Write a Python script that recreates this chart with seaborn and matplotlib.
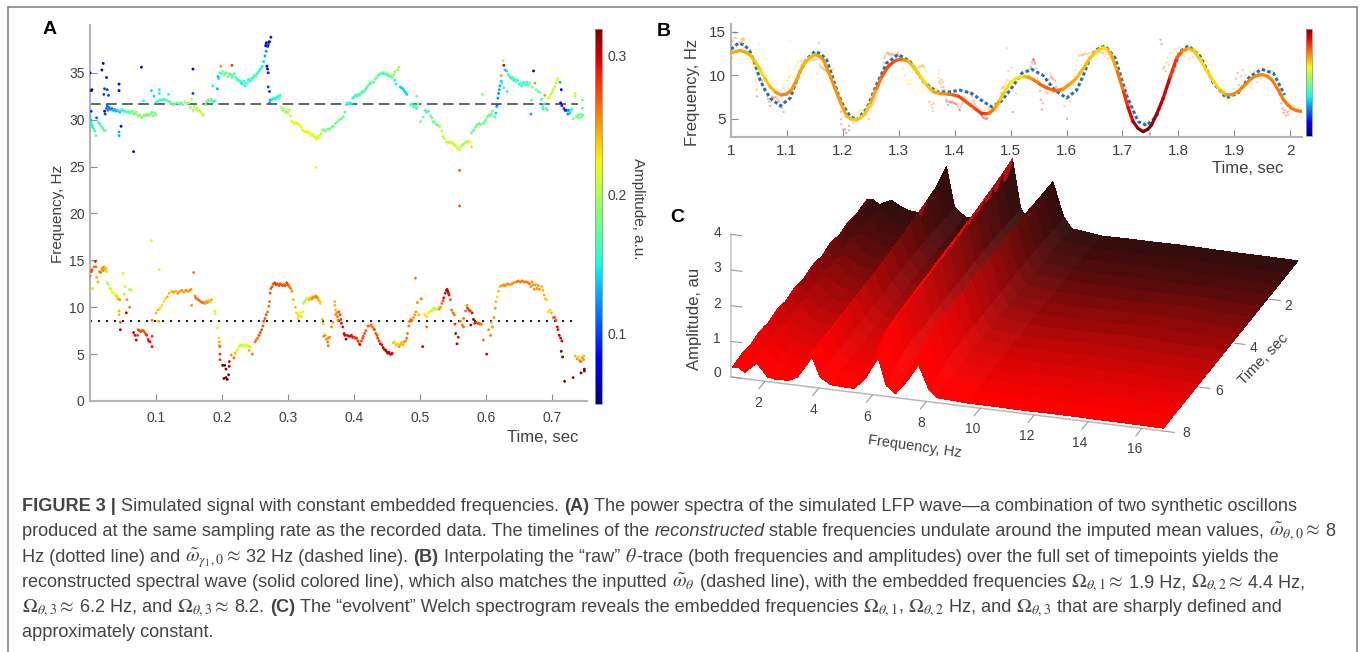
import numpy as np
import pandas as pd
import matplotlib
matplotlib.use("Agg")
import matplotlib.pyplot as plt
import seaborn as sns
from matplotlib.collections import LineCollection
from matplotlib.colors import Normalize, LinearSegmentedColormap
from matplotlib.cm import ScalarMappable
from mpl_toolkits.mplot3d import proj3d

# ---------- Panel A: gamma band ----------
gamma_t = [
.000,.002,.003,.018,.020,.025,.022,.021,.026,.028,
.002,.022,.023,.010,.044,.044,.047,.044,.044,.066,
.078,.156,.156,.000,.001,.002,.003,.004,.006,.007,
.009,.013,.015,.017,.019,.021,.023,.025,.026,.027,
.029,.031,.033,.035,.037,.039,.041,.043,.045,.047,
.049,.051,.053,.056,.058,.060,.062,.064,.066,.068,
.070,.072,.074,.076,.078,.080,.082,.084,.086,.088,
.090,.092,.094,.096,.098,.100,.081,.093,.097,.105,
.105,.119,.100,.103,.106,.109,.112,.115,.118,.121,
.123,.126,.129,.132,.135,.138,.141,.144,.147,.150,
.152,.154,.156,.158,.160,.162,.164,.166,.168,.170,
.172,.175,.177,.179,.181,.183,.185,.187,.189,.186,
.193,.194,.195,.197,.198,.199,.201,.203,.205,.207,
.209,.211,.213,.215,.215,.217,.219,.221,.223,.225,
.227,.229,.231,.233,.235,.237,.239,.241,.243,.245,
.247,.249,.251,.253,.255,.257,.259,.261,.263,.265,
.267,.269,.270,.272,.274,.266,.267,.271,.268,.269,
.270,.270,.272,.273,.272,.275,.277,.279,.281,.283,
.285,.287,.288,.290,.292,.294,.296,.298,.300,.302,
.304,.306,.308,.310,.312,.314,.316,.318,.320,.322,
.324,.326,.328,.330,.332,.334,.336,.338,.340,.342,
.343,.344,.346,.348,.350,.352,.342,.354,.357,.360,
.363,.366,.369,.372,.375,.378,.381,.384,.386,.388,
.390,.392,.394,.396,.398,.400,.402,.404,.406,.408,
.410,.412,.414,.416,.418,.420,.422,.424,.426,.428,
.430,.432,.434,.436,.438,.440,.442,.444,.446,.448,
.450,.452,.454,.456,.458,.460,.462,.464,.466,.468,
.470,.472,.474,.476,.478,.480,.462,.486,.488,.490,
.492,.494,.495,.495,.497,.501,.505,.508,.510,.513,
.516,.518,.520,.522,.525,.527,.530,.533,.535,.537,
.540,.542,.544,.546,.548,.550,.552,.554,.556,.558,
.560,.560,.560,.562,.564,.566,.568,.570,.572,.574,
.576,.578,.578,.580,.582,.584,.586,.588,.590,.592,
.595,.596,.598,.600,.602,.604,.606,.608,.610,.613,
.615,.616,.617,.618,.619,.620,.621,.623,.623,.624,
.626,.627,.627,.629,.631,.632,.634,.636,.638,.640,
.642,.644,.646,.648,.650,.652,.654,.656,.658,.660,
.662,.664,.666,.668,.669,.670,.672,.674,.676,.679,
.682,.684,.686,.687,.688,.689,.691,.693,.694,.696,
.698,.700,.702,.704,.706,.708,.709,.712,.714,.713,
.715,.718,.720,.722,.724,.725,.727,.728,.730,.732,
.735,.735,.737,.739,.741,.743,.745,.746,.746,.747]
gamma_f = [
35.0,33.1,33.2,35.3,36.0,34.5,33.3,32.7,33.2,32.6,
30.9,30.9,30.6,30.2,33.8,33.1,29.3,28.7,28.3,26.6,
35.6,35.4,32.8,30.3,30.0,29.7,29.4,29.2,29.0,28.8,
28.3,29.7,29.5,29.3,29.1,28.9,28.8,31.2,31.5,31.0,
31.3,31.1,31.2,31.0,31.1,30.9,31.0,30.9,30.8,31.0,
31.1,30.9,30.9,30.8,30.9,30.7,30.8,30.9,30.6,30.7,
30.8,30.5,30.4,30.5,30.2,30.3,30.5,30.4,30.6,30.4,
30.5,30.6,30.8,30.4,30.7,30.5,32.0,33.1,32.5,33.2,
32.8,32.7,31.9,32.0,32.1,32.1,32.2,32.1,32.0,31.9,
31.7,31.6,31.7,31.8,31.7,31.8,31.6,31.9,31.7,31.8,
31.3,32.2,31.0,31.4,31.1,31.2,30.9,31.0,30.8,30.6,
30.5,31.6,31.9,32.1,32.0,32.2,32.0,31.9,32.0,33.6,
33.3,34.6,34.4,35.0,35.7,34.9,35.1,34.7,34.9,35.0,
34.6,34.9,34.8,35.8,34.5,34.7,34.9,34.5,34.3,34.2,
34.1,33.9,33.8,34.1,33.6,33.9,34.2,34.3,34.1,34.4,
34.5,34.7,34.6,34.9,35.1,35.3,35.5,35.7,36.2,36.8,
37.3,37.8,38.0,38.3,38.8,37.9,38.2,38.3,35.7,35.4,
35.0,33.5,33.0,32.1,31.8,32.1,32.2,32.3,32.2,32.4,
32.5,32.3,32.6,31.3,31.0,31.1,30.8,30.9,30.7,31.0,
30.4,29.8,29.7,29.6,29.7,29.6,29.5,29.4,29.2,28.9,
28.8,28.7,28.8,28.6,28.7,28.5,28.3,28.4,28.2,28.0,
27.9,28.2,28.1,28.3,28.5,28.9,24.9,28.9,28.8,29.0,
29.0,29.2,29.3,29.6,29.8,30.0,30.1,30.3,30.8,31.6,
31.8,31.7,31.8,31.7,32.3,32.4,32.6,32.5,32.7,32.6,
32.8,33.0,32.9,33.1,33.3,33.5,33.7,33.9,33.9,34.0,
34.0,34.3,34.5,34.7,34.8,34.9,34.9,35.0,34.9,34.8,
34.9,34.7,34.6,34.7,34.5,34.8,35.1,33.8,35.3,35.6,
33.5,33.4,33.3,33.1,32.9,32.7,34.2,31.6,31.7,31.4,
31.5,31.2,32.5,31.3,31.7,29.8,30.3,31.0,30.8,30.9,
30.4,30.2,29.8,29.7,29.5,29.4,29.3,28.8,28.2,28.0,
27.6,27.5,27.6,27.5,27.6,27.5,27.3,27.2,27.0,26.9,
26.8,24.6,20.8,27.1,27.3,27.4,27.5,27.6,27.7,27.6,
27.7,27.1,28.6,28.8,28.9,29.2,29.4,29.5,29.6,29.5,
32.7,29.6,29.8,30.0,30.3,30.5,30.4,30.6,30.9,30.3,
30.7,31.4,31.6,32.3,32.8,33.2,33.6,34.1,34.7,33.9,
36.3,35.8,33.4,35.3,35.2,33.0,34.8,34.6,34.4,34.5,
34.2,34.3,34.1,34.2,33.8,33.9,33.6,33.9,34.0,33.7,
34.0,33.7,33.9,30.6,32.1,33.5,35.2,33.9,33.2,33.0,
32.9,32.2,31.4,31.1,31.7,32.6,31.2,31.0,32.3,32.4,
32.7,32.9,33.2,33.5,33.9,34.2,34.4,34.0,33.2,31.8,
31.5,31.2,31.0,31.0,30.6,31.0,30.7,30.9,31.1,30.1,
32.5,32.8,30.3,30.5,30.2,30.6,30.3,32.1,31.2,30.5]
gamma_a = [
.06,.07,.06,.08,.07,.08,.10,.10,.10,.10,
.10,.08,.10,.11,.07,.08,.07,.13,.13,.06,
.06,.07,.10,.14,.14,.15,.15,.15,.16,.17,
.18,.16,.16,.17,.17,.17,.18,.11,.11,.12,
.11,.12,.12,.13,.13,.13,.14,.14,.14,.15,
.16,.16,.16,.17,.17,.17,.18,.18,.18,.18,
.19,.19,.19,.19,.19,.19,.19,.19,.18,.19,
.19,.18,.18,.18,.18,.19,.15,.14,.14,.15,
.15,.16,.17,.17,.16,.16,.16,.16,.17,.17,
.17,.18,.18,.17,.18,.18,.17,.19,.19,.19,
.19,.20,.20,.20,.21,.20,.21,.20,.21,.21,
.20,.18,.17,.18,.18,.18,.17,.16,.15,.15,
.13,.13,.14,.16,.25,.17,.18,.19,.18,.18,
.18,.18,.17,.28,.18,.17,.17,.17,.16,.16,
.16,.15,.15,.15,.15,.16,.16,.16,.16,.16,
.16,.16,.17,.16,.16,.16,.15,.15,.14,.13,
.12,.10,.09,.08,.09,.06,.06,.08,.06,.08,
.09,.10,.10,.13,.12,.14,.15,.15,.15,.15,
.16,.16,.16,.20,.20,.19,.20,.20,.20,.20,
.21,.21,.22,.21,.22,.22,.21,.22,.22,.22,
.22,.22,.22,.22,.22,.22,.22,.22,.21,.22,
.22,.21,.21,.21,.20,.20,.22,.18,.18,.18,
.18,.18,.18,.18,.18,.18,.18,.18,.17,.16,
.16,.16,.15,.15,.16,.16,.17,.16,.17,.17,
.17,.17,.17,.17,.17,.17,.17,.17,.17,.18,
.18,.18,.18,.18,.18,.17,.17,.17,.17,.17,
.17,.17,.18,.18,.18,.19,.19,.15,.20,.20,
.14,.14,.14,.14,.14,.14,.15,.16,.16,.16,
.17,.16,.18,.17,.19,.19,.18,.16,.16,.17,
.18,.18,.18,.18,.18,.19,.20,.20,.20,.21,
.21,.21,.21,.21,.21,.21,.21,.21,.21,.21,
.22,.27,.27,.21,.20,.20,.20,.20,.20,.21,
.22,.23,.18,.18,.18,.18,.18,.18,.18,.18,
.19,.18,.18,.18,.18,.18,.18,.18,.18,.17,
.14,.13,.11,.12,.12,.13,.13,.14,.25,.16,
.19,.30,.16,.14,.14,.15,.15,.16,.16,.16,
.16,.16,.16,.16,.15,.16,.15,.16,.16,.16,
.17,.17,.18,.13,.18,.19,.07,.25,.18,.18,
.18,.16,.16,.16,.17,.25,.17,.17,.21,.22,
.21,.20,.20,.21,.21,.22,.22,.13,.08,.08,
.09,.10,.08,.10,.12,.12,.14,.15,.15,.18,
.20,.22,.18,.18,.18,.18,.18,.18,.18,.18]

# ---------- Panel A: theta band ----------
theta_t = [
.000,.002,.003,.004,.006,.008,.009,.010,.012,.014,
.016,.018,.019,.020,.021,.022,.023,.024,.025,.026,
.028,.030,.032,.034,.036,.038,.040,.041,.043,.045,
.044,.044,.046,.046,.055,.050,.053,.052,.056,.060,
.060,.063,.066,.068,.070,.072,.073,.075,.077,.079,
.081,.083,.085,.086,.088,.089,.091,.094,.094,.094,
.093,.105,.104,.100,.103,.106,.109,.112,.114,.117,
.120,.124,.127,.130,.133,.136,.139,.142,.145,.148,
.151,.153,.154,.157,.159,.160,.162,.164,.166,.168,
.170,.172,.174,.176,.178,.180,.182,.184,.189,.190,
.193,.195,.196,.196,.197,.197,.197,.201,.203,.204,
.206,.206,.208,.210,.211,.211,.214,.218,.220,.222,
.224,.226,.228,.230,.232,.234,.236,.238,.240,.242,
.241,.246,.250,.252,.254,.256,.258,.260,.262,.263,
.265,.267,.269,.271,.272,.273,.274,.276,.278,.280,
.282,.284,.286,.288,.290,.292,.294,.296,.298,.300,
.302,.304,.306,.308,.311,.313,.315,.316,.318,.320,
.322,.323,.325,.327,.328,.330,.332,.334,.336,.338,
.340,.342,.343,.345,.346,.348,.349,.352,.353,.354,
.356,.358,.360,.361,.361,.363,.366,.368,.371,.371,
.372,.372,.374,.375,.376,.377,.379,.380,.381,.383,
.385,.386,.388,.390,.392,.394,.396,.398,.400,.402,
.404,.406,.408,.409,.411,.413,.414,.416,.418,.421,
.423,.426,.428,.430,.431,.433,.435,.436,.438,.440,
.442,.444,.446,.448,.449,.451,.453,.455,.457,.458,
.460,.462,.464,.466,.468,.470,.472,.474,.476,.478,
.480,.481,.483,.484,.486,.488,.490,.492,.494,.493,
.496,.498,.502,.504,.507,.510,.510,.512,.515,.517,
.519,.521,.523,.525,.527,.529,.531,.533,.535,.536,
.538,.540,.541,.542,.543,.544,.546,.548,.550,.552,
.553,.554,.556,.558,.561,.564,.566,.566,.569,.571,
.572,.574,.576,.577,.579,.581,.583,.585,.587,.589,
.591,.593,.596,.601,.604,.607,.608,.610,.612,.614,
.615,.617,.619,.621,.623,.625,.627,.629,.631,.633,
.636,.639,.642,.646,.649,.652,.655,.658,.661,.664,
.666,.668,.670,.671,.673,.675,.677,.679,.681,.684,
.686,.688,.690,.692,.694,.697,.699,.702,.704,.706,
.708,.709,.711,.713,.715,.714,.716,.719,.732,.744,
.749,.749,.735,.738,.740,.742,.744,.746,.748,.748]
theta_f = [
13.3,13.8,14.0,12.0,14.3,14.9,14.3,13.2,12.7,13.8,
13.7,14.0,14.2,13.9,14.3,14.1,14.2,14.1,13.8,12.6,
12.4,12.0,11.9,11.6,11.5,11.3,11.2,11.1,10.9,10.8,
9.6,9.2,8.4,7.6,9.4,13.6,12.2,11.4,10.8,10.0,
11.9,11.8,7.3,7.0,6.5,7.0,7.6,7.5,7.4,7.5,
7.5,7.3,7.1,7.0,6.6,6.4,6.3,5.8,6.9,8.6,
17.1,14.0,8.5,9.4,9.7,9.9,10.2,10.6,10.9,11.1,
11.5,11.7,11.6,11.7,11.5,11.7,11.8,11.6,11.8,11.7,
11.8,11.9,10.2,13.7,11.2,11.0,10.9,10.8,10.7,10.6,
10.5,10.5,10.4,10.6,10.5,10.7,10.6,10.8,9.6,9.3,
7.8,6.7,6.3,5.9,5.8,5.0,4.4,3.8,2.4,3.8,
3.4,2.5,2.3,2.8,3.7,4.2,4.9,4.6,5.1,5.3,
5.5,5.8,6.0,5.9,6.0,5.9,5.9,6.0,5.8,5.8,
5.4,5.0,6.3,6.5,6.7,7.0,7.3,7.6,8.0,8.5,
8.8,9.2,9.5,10.1,10.6,11.5,12.0,12.2,12.5,12.6,
12.4,12.5,12.3,12.5,12.4,12.3,12.4,12.3,12.6,12.4,
12.2,12.0,11.7,10.8,10.0,9.4,8.8,9.1,9.4,9.0,
9.5,10.4,10.6,10.8,10.9,11.0,10.8,11.0,10.9,11.1,
11.0,11.2,11.1,11.0,10.8,10.6,10.4,8.7,8.3,6.9,
7.0,6.6,6.3,6.7,5.9,6.8,7.9,8.4,10.6,10.2,
9.7,9.2,9.4,9.0,8.6,9.5,9.2,8.7,8.3,7.9,
7.2,7.0,6.6,7.0,6.9,6.9,7.0,6.8,6.8,6.7,
6.7,6.4,6.1,6.0,6.4,6.7,6.9,7.2,7.5,8.0,
8.0,8.1,7.9,7.7,7.6,7.2,7.0,6.7,6.4,6.1,
6.0,5.7,5.5,5.4,5.3,5.1,5.2,5.0,5.0,5.1,
6.2,6.3,6.0,6.1,5.8,6.0,6.2,6.0,6.3,6.4,
6.7,7.2,8.0,8.5,8.7,8.6,8.9,9.2,9.5,13.1,
10.5,9.2,10.9,5.8,9.2,7.9,9.0,9.4,9.5,9.6,
9.7,9.9,9.8,9.8,10.0,9.8,10.0,10.4,10.7,11.0,
11.5,11.8,11.9,11.7,11.5,11.3,10.8,9.7,9.4,9.2,
8.2,7.2,6.1,6.8,8.5,8.1,7.9,8.8,9.6,10.2,
9.9,9.7,9.6,8.1,9.4,8.7,8.3,8.4,8.3,8.3,
8.2,8.2,6.5,5.0,7.6,7.0,8.4,7.9,8.9,9.9,
10.6,11.1,11.7,12.2,12.3,12.3,12.4,12.3,12.4,12.5,
12.4,12.5,12.6,12.7,12.8,12.7,12.8,12.7,12.7,12.6,
12.5,12.2,12.7,12.4,11.9,12.4,12.0,12.3,11.9,12.2,
11.8,11.3,10.9,10.8,9.5,9.7,9.4,8.9,8.9,8.6,
7.9,7.6,7.0,6.7,6.4,5.3,4.7,2.1,2.5,3.0,
3.4,3.2,4.8,4.5,4.7,4.3,4.2,4.6,4.8,4.4]
theta_a = [
.25,.26,.26,.22,.25,.28,.25,.23,.23,.24,
.25,.24,.24,.24,.24,.24,.23,.23,.22,.19,
.19,.20,.20,.21,.21,.21,.22,.22,.23,.24,
.23,.23,.26,.29,.29,.20,.21,.22,.24,.25,
.19,.19,.29,.28,.29,.27,.26,.27,.26,.26,
.26,.26,.27,.27,.27,.28,.28,.28,.27,.25,
.20,.21,.24,.23,.23,.22,.22,.22,.22,.23,
.23,.23,.24,.23,.24,.24,.24,.24,.24,.24,
.24,.24,.24,.25,.24,.25,.25,.25,.25,.25,
.25,.25,.24,.24,.24,.23,.23,.23,.20,.20,
.20,.22,.23,.24,.25,.27,.27,.31,.31,.31,
.31,.31,.31,.30,.29,.29,.24,.25,.23,.21,
.21,.20,.19,.19,.20,.20,.20,.21,.21,.22,
.23,.25,.25,.25,.25,.26,.26,.26,.26,.26,
.26,.26,.25,.25,.25,.26,.26,.26,.26,.27,
.27,.26,.26,.26,.26,.26,.26,.26,.27,.26,
.25,.25,.24,.23,.23,.22,.22,.22,.21,.22,
.21,.20,.19,.19,.19,.21,.23,.23,.24,.24,
.24,.24,.25,.24,.23,.23,.22,.23,.23,.24,
.24,.24,.25,.24,.25,.24,.24,.24,.23,.23,
.23,.24,.24,.25,.25,.26,.26,.27,.28,.28,
.29,.29,.30,.28,.28,.28,.28,.28,.27,.27,
.27,.27,.27,.28,.26,.26,.26,.26,.26,.25,
.25,.25,.25,.25,.26,.26,.26,.27,.27,.28,
.28,.29,.29,.29,.29,.30,.29,.29,.29,.28,
.23,.22,.23,.22,.24,.23,.23,.23,.24,.24,
.25,.25,.25,.25,.25,.25,.24,.24,.24,.25,
.24,.23,.25,.29,.22,.25,.22,.21,.21,.20,
.19,.19,.19,.20,.21,.24,.24,.25,.26,.28,
.28,.29,.29,.29,.29,.28,.26,.25,.25,.25,
.27,.29,.29,.28,.25,.25,.25,.25,.25,.24,
.27,.27,.27,.29,.28,.31,.28,.27,.26,.26,
.26,.25,.25,.29,.24,.25,.24,.24,.24,.24,
.23,.22,.23,.23,.23,.24,.24,.24,.24,.24,
.24,.24,.24,.25,.25,.25,.25,.25,.25,.25,
.25,.24,.24,.24,.24,.24,.24,.24,.24,.23,
.23,.23,.23,.22,.22,.22,.23,.25,.26,.26,
.28,.28,.29,.29,.29,.31,.31,.31,.30,.31,
.31,.31,.23,.24,.22,.25,.25,.24,.23,.24]

gamma_mean = 31.7
theta_mean = 8.5

# ---------- Panel B ----------
extra_t = [
1.768,1.770,1.770,1.773,1.775,1.777,1.779,1.781,1.783,1.786,
1.790,1.793,1.796,1.799,1.802,1.805,1.808,1.811,1.814,1.817,
1.820,1.823,1.826,1.829,1.832,1.835,1.838,1.842,1.846,1.850,
1.855,1.860,1.865,1.870,1.875,1.880,1.885,1.888,1.892,1.895,
1.900,1.903,1.906,1.908,1.912,1.915,1.918,1.921,1.925,1.928,
1.932,1.936,1.940,1.945,1.950,1.955,1.960,1.964,1.968,1.972,
1.976,1.980,1.984,1.986,1.988,1.990,1.992,1.994,1.996,1.998,
2.000,2.004,2.008,2.012,2.016,2.018,1.895,1.903,1.930,1.948]
extra_f = [
14.1,13.6,6.2,10.8,11.0,10.5,11.5,12.0,11.2,12.5,
12.6,13.0,12.2,12.7,13.2,12.4,13.0,12.2,12.8,13.2,
12.0,12.9,12.1,12.6,13.0,12.0,12.7,11.8,12.4,11.6,
11.2,10.2,9.2,8.6,8.0,7.6,7.2,7.9,6.9,7.8,
8.4,9.6,10.3,8.9,9.9,10.6,9.4,10.0,9.0,10.4,
9.7,10.5,9.2,10.3,10.8,9.9,10.9,10.3,10.5,9.4,
8.6,7.8,6.8,6.2,5.7,6.0,5.4,5.8,5.5,5.9,
6.2,6.4,6.5,6.2,6.4,6.1,7.0,7.4,8.6,9.6]
extra_a = [
.08,.29,.29,.26,.25,.26,.24,.24,.25,.24,
.23,.24,.24,.24,.25,.24,.24,.24,.24,.25,
.24,.24,.24,.23,.23,.23,.23,.22,.22,.22,
.22,.21,.21,.21,.22,.22,.23,.23,.22,.24,
.25,.27,.27,.26,.26,.26,.25,.25,.24,.24,
.24,.24,.24,.24,.24,.24,.23,.23,.24,.25,
.26,.27,.28,.29,.29,.29,.28,.28,.27,.26,
.24,.22,.22,.22,.22,.22,.22,.23,.24,.24]

wave_t = [
1.000,1.008,1.016,1.025,1.034,1.043,1.052,1.061,1.070,1.080,
1.090,1.099,1.108,1.118,1.129,1.140,1.150,1.158,1.165,1.175,
1.186,1.197,1.207,1.215,1.222,1.231,1.240,1.250,1.260,1.270,
1.281,1.291,1.301,1.309,1.317,1.327,1.338,1.350,1.362,1.375,
1.389,1.398,1.407,1.418,1.428,1.438,1.448,1.455,1.463,1.472,
1.481,1.490,1.499,1.508,1.517,1.525,1.532,1.542,1.552,1.565,
1.579,1.587,1.594,1.606,1.618,1.630,1.642,1.654,1.666,1.674,
1.681,1.691,1.702,1.710,1.719,1.728,1.737,1.745,1.752,1.762,
1.773,1.785,1.797,1.807,1.818,1.828,1.839,1.851,1.863,1.875,
1.886,1.896,1.907,1.917,1.928,1.938,1.949,1.958,1.967,1.978,
1.988,1.996,2.003,2.012,2.021]
wave_f = [
12.55,12.75,12.85,12.7,12.36,11.6,10.6,9.6,8.7,8.05,
7.75,7.85,8.3,9.6,11.2,12.0,12.36,12.2,11.8,10.3,
8.5,6.7,5.3,5.0,4.9,5.1,5.65,6.9,8.5,9.9,
11.0,11.6,11.86,11.8,11.6,10.9,9.9,8.9,8.1,7.9,
7.85,7.75,7.6,7.1,6.6,6.1,5.65,5.6,5.7,6.3,
7.2,8.2,9.1,9.6,9.8,9.85,9.8,9.45,9.0,8.55,
8.26,8.3,8.45,9.0,9.7,10.8,12.0,12.8,13.2,12.9,
12.2,10.4,8.1,6.3,4.7,3.9,3.55,3.8,4.3,5.7,
7.4,9.8,12.0,12.8,13.1,12.8,11.8,10.5,9.3,8.3,
7.75,7.8,8.15,8.8,9.5,9.95,10.1,9.95,9.5,8.4,
7.2,6.6,6.2,5.95,5.85]
wave_a = [
.235,.235,.235,.235,.23,.225,.22,.225,.23,.24,
.245,.245,.24,.235,.23,.232,.235,.238,.24,.24,
.24,.235,.23,.228,.225,.225,.225,.235,.25,.258,
.265,.262,.255,.24,.23,.225,.22,.228,.235,.243,
.25,.258,.265,.262,.26,.265,.27,.262,.25,.235,
.225,.22,.215,.218,.22,.23,.24,.248,.255,.255,
.255,.248,.24,.235,.23,.228,.225,.222,.22,.228,
.235,.25,.27,.282,.295,.305,.315,.308,.30,.292,
.285,.27,.255,.24,.23,.225,.22,.22,.22,.23,
.24,.243,.245,.245,.245,.245,.245,.245,.245,.248,
.25,.25,.25,.25,.25]

input_t = [
1.000,1.013,1.024,1.034,1.043,1.052,1.061,1.070,1.088,1.106,
1.123,1.136,1.150,1.160,1.171,1.181,1.192,1.202,1.213,1.225,
1.243,1.260,1.278,1.299,1.320,1.344,1.368,1.389,1.410,1.430,
1.451,1.466,1.481,1.499,1.520,1.538,1.558,1.579,1.600,1.618,
1.630,1.642,1.655,1.669,1.687,1.707,1.728,1.743,1.761,1.785,
1.803,1.818,1.839,1.863,1.886,1.907,1.928,1.949,1.970,1.990]
input_f = [
13.0,13.7,13.5,12.75,11.3,9.5,8.3,7.4,6.5,7.4,
10.4,11.9,12.75,12.5,11.8,9.9,7.75,6.4,5.3,4.9,
6.2,8.9,11.4,12.4,11.6,9.3,8.1,8.1,8.3,7.95,
7.0,6.4,6.9,8.3,10.25,10.7,10.0,8.3,7.4,8.3,
10.0,12.0,13.0,13.4,12.0,7.75,4.7,4.25,5.3,9.7,
12.75,13.4,12.2,9.1,7.4,8.0,9.9,10.7,10.25,7.75]

# ---------- Panel C: Welch spectrogram ----------
spec_freq = [0.8,1.0,1.25,1.7,2.1,2.4,2.9,3.2,3.5,3.75,
             4.05,4.45,5.3,5.7,6.0,6.2,6.5,6.85,7.3,7.7,
             8.1,8.4,9.5,10.5,11.5,12.5,13.5,14.5,15.5,16.8]
spec_time = [8.0,7.5,7.0,6.5,6.0,5.5,5.0,4.5,4.0,3.5,3.0,2.5,2.0,1.5,1.0,0.4]
amp_t80 = [.28,.30,.18,.48,.13,.09,.11,.23,.55,.85,.31,.13,.11,.40,.85,1.07,.31,.11,.53,1.00,.33,.14,.10,.10,.09,.10,.10,.09,.09,.08]
amp_t75 = [.33,.50,.22,.46,.18,.12,.11,.28,.65,.90,.42,.17,.13,.50,1.25,1.45,.60,.22,.80,1.35,.50,.20,.12,.11,.11,.11,.11,.10,.10,.09]
amp_t70 = [.28,.42,.22,.44,.20,.12,.11,.30,.70,.92,.45,.18,.14,.55,1.35,1.58,.68,.24,.85,1.52,.58,.22,.13,.12,.12,.12,.12,.11,.10,.09]
amp_t65 = [.34,.52,.22,.48,.20,.12,.11,.30,.70,.94,.46,.18,.14,.55,1.36,1.60,.70,.24,.84,1.50,.60,.22,.13,.13,.12,.12,.13,.12,.11,.09]
amp_t60 = [.28,.42,.21,.44,.20,.13,.11,.30,.72,.96,.47,.19,.15,.56,1.38,1.62,.70,.25,.84,1.50,.60,.22,.13,.12,.12,.13,.12,.12,.11,.09]
amp_t55 = [.35,.52,.22,.48,.20,.13,.12,.31,.72,.98,.48,.19,.15,.57,1.40,1.64,.70,.25,.82,1.50,.60,.22,.14,.12,.13,.15,.13,.12,.10,.09]
amp_t50 = [.28,.42,.21,.44,.20,.12,.11,.31,.74,1.00,.48,.19,.15,.57,1.40,1.66,.72,.25,.82,1.52,.60,.23,.13,.13,.12,.16,.14,.13,.11,.09]
amp_t45 = [.35,.53,.23,.48,.20,.12,.12,.31,.74,1.02,.50,.20,.15,.58,1.42,1.68,.72,.25,.80,1.50,.60,.22,.14,.12,.13,.15,.17,.13,.10,.09]
amp_t40 = [.28,.42,.22,.44,.20,.13,.11,.32,.76,1.05,.50,.20,.15,.58,1.42,1.70,.72,.26,.80,1.50,.60,.23,.13,.13,.13,.13,.18,.14,.11,.09]
amp_t35 = [.35,.53,.22,.48,.21,.13,.12,.32,.76,1.08,.52,.20,.15,.58,1.44,1.72,.72,.26,.80,1.50,.60,.22,.14,.12,.13,.14,.15,.16,.10,.09]
amp_t30 = [.28,.42,.21,.43,.20,.12,.11,.32,.78,1.10,.52,.20,.15,.58,1.44,1.74,.72,.26,.78,1.52,.60,.22,.13,.13,.12,.12,.16,.18,.11,.09]
amp_t25 = [.35,.52,.22,.48,.20,.12,.12,.32,.78,1.14,.52,.20,.15,.58,1.46,1.76,.72,.25,.78,1.50,.58,.22,.14,.12,.13,.12,.14,.15,.11,.09]
amp_t20 = [.27,.40,.21,.42,.20,.13,.11,.32,.80,1.18,.50,.19,.14,.56,1.46,1.80,.70,.24,.76,1.50,.58,.22,.12,.12,.12,.13,.12,.13,.10,.09]
amp_t15 = [.33,.48,.22,.46,.19,.12,.11,.30,.76,1.22,.48,.18,.14,.54,1.46,1.83,.68,.23,.74,1.48,.55,.21,.12,.13,.13,.14,.12,.11,.10,.09]
amp_t10 = [.26,.36,.20,.42,.18,.12,.11,.26,.68,1.28,.44,.16,.13,.52,1.44,1.87,.64,.21,.72,1.46,.52,.20,.11,.12,.12,.13,.12,.11,.10,.09]
amp_t04 = [.30,.32,.20,.36,.20,.13,.11,.20,.50,1.50,.40,.15,.12,.50,1.40,1.95,.60,.20,.70,1.45,.50,.20,.10,.11,.11,.12,.11,.10,.10,.09]

# ---------- Caption ----------
caption_lines = [
    [("FIGURE 3 | ", "bold", "normal"),
     ("Simulated signal with constant embedded frequencies. ", "normal", "normal"),
     ("(A) ", "bold", "normal"),
     ("The power spectra of the simulated LFP wave\u2014a combination of two synthetic oscillons", "normal", "normal")],
    [("produced at the same sampling rate as the recorded data. The timelines of the ", "normal", "normal"),
     ("reconstructed ", "normal", "italic"),
     ("stable frequencies undulate around the imputed mean values, ", "normal", "normal"),
     (r"$\tilde{\omega}_{\theta,0}\approx$ ", "normal", "normal"), ("8", "normal", "normal")],
    [("Hz (dotted line) and ", "normal", "normal"),
     (r"$\tilde{\omega}_{\gamma_1,0}\approx$ ", "normal", "normal"),
     ("32 Hz (dashed line). ", "normal", "normal"),
     ("(B) ", "bold", "normal"),
     ("Interpolating the \u201craw\u201d ", "normal", "normal"),
     (r"$\theta$", "normal", "normal"),
     ("-trace (both frequencies and amplitudes) over the full set of timepoints yields the", "normal", "normal")],
    [("reconstructed spectral wave (solid colored line), which also matches the inputted ", "normal", "normal"),
     (r"$\tilde{\omega}_{\theta}$ ", "normal", "normal"),
     ("(dashed line), with the embedded frequencies ", "normal", "normal"),
     (r"$\Omega_{\theta,1}\approx$ ", "normal", "normal"),
     ("1.9 Hz, ", "normal", "normal"),
     (r"$\Omega_{\theta,2}\approx$ ", "normal", "normal"),
     ("4.4 Hz,", "normal", "normal")],
    [(r"$\Omega_{\theta,3}\approx$ ", "normal", "normal"),
     ("6.2 Hz, and ", "normal", "normal"),
     (r"$\Omega_{\theta,3}\approx$ ", "normal", "normal"),
     ("8.2. ", "normal", "normal"),
     ("(C) ", "bold", "normal"),
     ("The \u201cevolvent\u201d Welch spectrogram reveals the embedded frequencies ", "normal", "normal"),
     (r"$\Omega_{\theta,1}$", "normal", "normal"), (", ", "normal", "normal"),
     (r"$\Omega_{\theta,2}$ ", "normal", "normal"),
     ("Hz, and ", "normal", "normal"),
     (r"$\Omega_{\theta,3}$ ", "normal", "normal"),
     ("that are sharply defined and", "normal", "normal")],
    [("approximately constant.", "normal", "normal")],
]
caption_baselines = [511, 536, 562, 587, 612, 637]

# ---------- Drawing ----------
W, H = 1360, 652
sns.set_theme(style="white")
plt.rcParams["font.family"] = ["Liberation Sans", "DejaVu Sans"]
plt.rcParams["mathtext.fontset"] = "stix"
GRAY = "#404040"
AXC = "#b4b4b4"
JET = matplotlib.colormaps["jet"]
fig = plt.figure(figsize=(W / 100, H / 100), dpi=100, facecolor="white")


def rect(l, t, r, b):
    return [l / W, 1 - b / H, (r - l) / W, (b - t) / H]


def ptext(x, y, s, **kw):
    kw.setdefault("color", GRAY)
    kw.setdefault("ha", "center")
    kw.setdefault("va", "center")
    return fig.text(x / W, 1 - y / H, s, **kw)


def style_axes(ax, size):
    sns.despine(ax=ax)
    for k in ("left", "bottom"):
        ax.spines[k].set_color(AXC)
        ax.spines[k].set_linewidth(1.5)
    ax.tick_params(direction="in", length=5, width=0.8, color="#8c8c8c",
                   labelcolor=GRAY, labelsize=size, pad=4,
                   left=True, bottom=True)
    ax.set_xlabel("")
    ax.set_ylabel("")


norm = Normalize(0.049, 0.319)
warm_norm = Normalize(0.049 - 0.012, 0.319 - 0.012)
df_gamma = pd.DataFrame({"t": gamma_t, "f": gamma_f, "a": gamma_a})
df_theta = pd.DataFrame({"t": theta_t, "f": theta_f, "a": theta_a})
df_extra = pd.DataFrame({"t": extra_t, "f": extra_f, "a": extra_a})

# Panel A
axA = fig.add_axes(rect(90, 25, 587, 401))
sns.scatterplot(data=df_gamma, x="t", y="f", hue="a", palette=JET, hue_norm=norm,
                s=4.2, linewidth=0, legend=False, ax=axA, zorder=3)
sns.scatterplot(data=df_theta, x="t", y="f", hue="a", palette=JET, hue_norm=warm_norm,
                s=4.2, linewidth=0, legend=False, ax=axA, zorder=3)
sns.lineplot(x=[0, 0.74], y=[gamma_mean, gamma_mean], color="#3c3c3c", lw=1.1,
             linestyle=(0, (7.0, 3.5)), ax=axA, estimator=None, zorder=2)
sns.lineplot(x=[0, 0.74], y=[theta_mean, theta_mean], color="#222222", lw=1.5,
             linestyle=(0, (1.0, 2.84)), ax=axA, estimator=None, zorder=2)
axA.set_xlim(0, 0.753)
axA.set_ylim(0, 40.1)
axA.set_xticks([0.1, 0.2, 0.3, 0.4, 0.5, 0.6, 0.7])
axA.set_yticks([0, 5, 10, 15, 20, 25, 30, 35])
axA.set_xticklabels(["0.1", "0.2", "0.3", "0.4", "0.5", "0.6", "0.7"])
style_axes(axA, 10)
axA.tick_params(axis="x", pad=7)
ptext(58, 214, "Frequency, Hz", rotation=90, fontsize=11)
ptext(543, 438, "Time, sec", fontsize=12)
ptext(50, 30, "A", fontsize=14, fontweight="bold", color="black")

caxA = fig.add_axes(rect(595, 29, 602, 404))
cbA = fig.colorbar(ScalarMappable(norm=norm, cmap=JET), cax=caxA, ticks=[0.1, 0.2, 0.3])
caxA.set_yticklabels(["0.1", "0.2", "0.3"])
caxA.set_yticks([0.15, 0.25], minor=True)
caxA.tick_params(which="both", direction="in", length=3, width=0.7, color="#555555",
                 labelcolor=GRAY, labelsize=10, pad=4, right=True, left=False)
cbA.outline.set_edgecolor("#999999")
cbA.outline.set_linewidth(0.6)
ptext(638, 209, "Amplitude, a.u.", rotation=270, fontsize=11)

# Panel B
axB = fig.add_axes(rect(731, 24, 1302, 137))
d_low = df_theta.assign(t=df_theta["t"] + 1.0)
for d in (d_low, df_extra):
    sns.scatterplot(data=d, x="t", y="f", hue="a", palette=JET, hue_norm=warm_norm,
                    s=3, linewidth=0, legend=False, alpha=0.3, ax=axB, zorder=2)
sns.lineplot(x=input_t, y=input_f, color="#1b75bc", lw=2.2, sort=False, estimator=None,
             linestyle=(0, (1.1, 0.8)), ax=axB, zorder=3)
pts = np.column_stack([wave_t, wave_f]).reshape(-1, 1, 2)
segs = np.concatenate([pts[:-1], pts[1:]], axis=1)
lc = LineCollection(segs, cmap=JET, norm=warm_norm, linewidth=2.3, capstyle="round", zorder=4)
lc.set_array(np.asarray(wave_a[:-1]))
axB.add_collection(lc)
axB.set_xlim(1.0, 2.021)
axB.set_ylim(2.93, 15.9)
axB.set_xticks([1, 1.1, 1.2, 1.3, 1.4, 1.5, 1.6, 1.7, 1.8, 1.9, 2])
axB.set_xticklabels(["1", "1.1", "1.2", "1.3", "1.4", "1.5", "1.6", "1.7", "1.8", "1.9", "2"])
axB.set_yticks([5, 10, 15])
style_axes(axB, 11)
axB.tick_params(axis="x", pad=5)
ptext(692, 92, "Frequency, Hz", rotation=90, fontsize=12)
ptext(1248, 168, "Time, sec", fontsize=12)
ptext(664, 31, "B", fontsize=14, fontweight="bold", color="black")

caxB = fig.add_axes(rect(1306, 29, 1312, 136))
cbB = fig.colorbar(ScalarMappable(norm=norm, cmap=JET), cax=caxB, ticks=[0.15, 0.2, 0.25])
caxB.set_yticklabels([])
caxB.tick_params(direction="in", length=2, width=0.6, color="#555555", right=True, left=False)
cbB.outline.set_edgecolor("#999999")
cbB.outline.set_linewidth(0.6)

# Panel C
amp_rows = [amp_t80, amp_t75, amp_t70, amp_t65, amp_t60, amp_t55, amp_t50, amp_t45,
            amp_t40, amp_t35, amp_t30, amp_t25, amp_t20, amp_t15, amp_t10, amp_t04]
Z = np.array(amp_rows)
X, Y = np.meshgrid(spec_freq, spec_time)
axC = fig.add_axes(rect(700, 150, 1300, 750), projection="3d", computed_zorder=False)
axC.set_proj_type("ortho")
axC.view_init(elev=23.2, azim=-72.4)
axC.set_box_aspect((452, 443, 154.6))
axC.set_xlim(0.74, 16.8)
axC.set_ylim(8.0, 0.4)
axC.set_zlim(0, 4)
axC.set_axis_off()
axC.patch.set_alpha(0)

ramp = LinearSegmentedColormap.from_list(
    "depth", [(0.15, 0.05, 0.05), (0.33, 0.04, 0.04), (0.58, 0.03, 0.03), (0.82, 0.02, 0.02), (1.0, 0.0, 0.0)])
depth = (Y - 0.4) / 7.6
base = ramp(depth)
dz = np.gradient(Z, np.asarray(spec_freq), axis=1)
up = np.clip(dz / 3.0, 0, 1)[..., None]
down = np.clip(-dz / 2.5, 0, 1)[..., None]
rgb = base[..., :3].copy()
rgb = rgb + up * np.array([0.6, 0.0, 0.0])
rgb = rgb + down * np.array([0.05, 0.05, 0.05])
face = np.clip(np.dstack([rgb, np.ones_like(Z)]), 0, 1)
axC.plot_surface(X, Y, Z, facecolors=face, rstride=1, cstride=1, shade=False,
                 linewidth=0, antialiased=False, zorder=1)

TK = "#9a9a9a"
axC.plot([0.74, 16.8], [8.0, 8.0], [0, 0], color="#b8b8b8", lw=1.1, zorder=3)
axC.plot([0.74, 0.74], [8.0, 8.0], [0, 4], color="#c4c4c4", lw=1.1, zorder=3)
for fv in [2, 4, 6, 8, 10, 12, 14, 16]:
    axC.plot([fv, fv], [8.0, 8.35], [0, 0], color=TK, lw=0.8, zorder=3)
for tv in [2, 4, 6, 8]:
    axC.plot([16.8, 17.2], [tv, tv], [0, 0], color=TK, lw=0.8, zorder=3)
for zv in [0, 1, 2, 3, 4]:
    axC.plot([0.74, 1.15], [8.0, 8.0], [zv, zv], color=TK, lw=0.8, zorder=3)


def to_px(fx, ty, zz):
    x2, y2, _ = proj3d.proj_transform(fx, ty, zz, axC.get_proj())
    d = axC.transData.transform((x2, y2))
    return np.array([d[0], H - d[1]])


want_a = np.array([731.0, 377.0])
want_b = np.array([1164.0, 427.0])
fig.canvas.draw()
for _ in range(4):
    a_now, b_now = to_px(0.74, 8.0, 0), to_px(16.8, 8.0, 0)
    s = np.linalg.norm(want_b - want_a) / np.linalg.norm(b_now - a_now)
    p = axC.get_position(original=True)
    w = p.width * W * s
    cx_old, cy_old = p.x0 * W + p.width * W / 2, p.y0 * H + p.height * H / 2
    # move so that the anchor lands on its wanted pixel after scaling
    off = (a_now - np.array([cx_old, H - cy_old])) * s
    cx_new = want_a[0] - off[0]
    cy_new = H - (want_a[1] - off[1])
    axC.set_position([(cx_new - w / 2) / W, (cy_new - w / 2) / H, w / W, w / H])
    fig.canvas.draw()

for xy, s in zip([(758, 403), (813, 410), (867, 417), (921, 423),
                  (973, 429), (1027, 436), (1080, 443), (1135, 449)],
                 ["2", "4", "6", "8", "10", "12", "14", "16"]):
    ptext(xy[0], xy[1], s, fontsize=10)
for xy, s in zip([(717, 233), (717, 268), (717, 304), (717, 339), (717, 373)],
                 ["4", "3", "2", "1", "0"]):
    ptext(xy[0], xy[1], s, fontsize=10)
for xy, s in zip([(1288, 306), (1254, 348), (1219, 391), (1186, 433)], ["2", "4", "6", "8"]):
    ptext(xy[0], xy[1], s, fontsize=10)
ptext(915, 447, "Frequency, Hz", rotation=-8, fontsize=10.5)
ptext(695, 319, "Amplitude, au", rotation=90, fontsize=12)
ptext(1263, 359, "Time, sec", rotation=46, fontsize=11)
ptext(677, 217, "C", fontsize=14, fontweight="bold", color="black")

# Caption, run by run
renderer = fig.canvas.get_renderer()
CAP = 13.05
space_probe = fig.text(0, 0, "a a", fontsize=CAP)
probe2 = fig.text(0, 0, "aa", fontsize=CAP)
space_w = space_probe.get_window_extent(renderer).width - probe2.get_window_extent(renderer).width
space_probe.remove()
probe2.remove()
plt.rcParams["mathtext.fontset"] = "stix"
for runs, base_y in zip(caption_lines, caption_baselines):
    x = 22.0
    for s, weight, style in runs:
        core = s.rstrip(" ")
        size = CAP + 1.3 if "$" in core else CAP
        t = fig.text(x / W, 1 - base_y / H, core, fontsize=size, fontweight=weight, fontstyle=style,
                     color="#444444", ha="left", va="baseline")
        x += t.get_window_extent(renderer).width + (len(s) - len(core)) * space_w

# Frame: top, left and right rules only
for xs, ys in [((7.5, 7.5), (652, 6.5)), ((7.5, 1356.5), (6.5, 6.5)), ((1356.5, 1356.5), (6.5, 652))]:
    fig.add_artist(plt.Line2D([v / W for v in xs], [1 - v / H for v in ys], transform=fig.transFigure,
                              color="#7a7a7a", lw=1.1))

fig.savefig("out.png", dpi=100, facecolor="white")
